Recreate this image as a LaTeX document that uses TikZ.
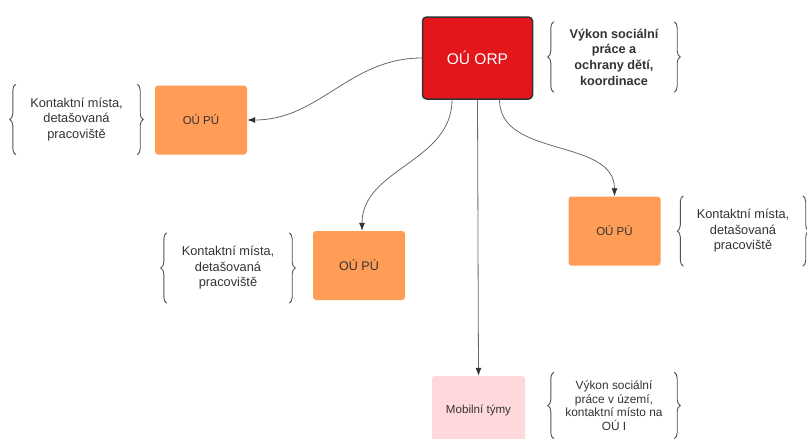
\documentclass[tikz,border=0pt]{standalone}
\usepackage{fontspec}
\setmainfont{Liberation Sans}
\usetikzlibrary{arrows.meta,decorations.pathreplacing}
\definecolor{orpred}{HTML}{E3161B}
\definecolor{puorange}{HTML}{FF9C55}
\definecolor{mobpink}{HTML}{FFD8DB}
\definecolor{linegray}{HTML}{6A6A6A}
\definecolor{textgray}{HTML}{333333}

\begin{document}
\begin{tikzpicture}[x = 1pt, y = -1pt,
  office/.style = {rounded corners = 3pt, minimum width = 92pt,
    minimum height = 69pt, inner sep = 0pt, text = textgray},
  note/.style = {minimum width = 120pt, minimum height = 70pt,
    inner sep = 0pt, align = center, text = textgray,
    font = {\fontsize{12.8}{15.5}\selectfont}},
  curly/.style = {decorate, decoration = {brace, amplitude = 6pt},
    draw = textgray!85, line width = .9pt},
  link/.style = {draw = linegray, line width = .8pt,
    -{Latex[length = 8pt, width = 6pt, color = textgray]}}]
  \useasboundingbox (0, 0) rectangle (807, 439);

  \node[office, fill = orpred, draw = textgray, line width = 1.5pt,
  rounded corners = 4pt, minimum width = 110pt, minimum height = 82pt,
  text = white, font = {\fontsize{15.5}{18}\selectfont}] (orp) at (477.5, 58)
  {OÚ ORP};
  \node[office, fill = puorange, font = {\fontsize{11.5}{14}\selectfont}]
  (pu1) at (201, 120) {OÚ PÚ};
  \node[office, fill = puorange, font = {\fontsize{12.5}{15}\selectfont}]
  (pu2) at (359, 265.5) {OÚ PÚ};
  \node[office, fill = puorange, font = {\fontsize{11.5}{14}\selectfont}]
  (pu3) at (614.5, 231) {OÚ PÚ};
  \node[office, fill = mobpink, minimum width = 93pt,
  font = {\fontsize{11.6}{14}\selectfont}] (mob) at (478.5, 410.5)
  {Mobilní týmy};

  \node[note, font = {\fontsize{12.7}{15.7}\selectfont\bfseries}]
  (orpnote) at (614, 57) {Výkon sociální\\práce a\\ochrany dětí,\\koordinace};
  \node[note, minimum width = 121pt] (pu1note) at (76.5, 119.5)
  {Kontaktní místa,\\detašovaná\\pracoviště};
  \node[note, minimum width = 122pt] (pu2note) at (228, 268)
  {Kontaktní místa,\\detašovaná\\pracoviště};
  \node[note, minimum width = 119pt] (pu3note) at (743, 231)
  {Kontaktní místa,\\detašovaná\\pracoviště};
  \node[note, minimum height = 66pt, font = {\fontsize{11.9}{13.6}\selectfont}]
  (mobnote) at (614, 405.5)
  {Výkon sociální\\práce v území,\\kontaktní místo na\\OÚ I};

  \draw[curly] (orpnote.south west) -- (orpnote.north west);
  \draw[curly] (orpnote.north east) -- (orpnote.south east);
  \draw[curly] (pu1note.south west) -- (pu1note.north west);
  \draw[curly] (pu1note.north east) -- (pu1note.south east);
  \draw[curly] (pu2note.south west) -- (pu2note.north west);
  \draw[curly] (pu2note.north east) -- (pu2note.south east);
  \draw[curly] (pu3note.south west) -- (pu3note.north west);
  \draw[curly] (pu3note.north east) -- (pu3note.south east);
  \draw[curly] (mobnote.south west) -- (mobnote.north west);
  \draw[curly] (mobnote.north east) -- (mobnote.south east);

  \draw[link] (orp.west) to[out = 180, in = 0] (pu1.east);
  \draw[link] ([xshift = -25.5pt]orp.south) to[out = -90, in = 90]
  ([xshift = 3pt]pu2.north);
  \draw[link] (orp.south) -- (mob.north);
  \draw[link] ([xshift = 22pt]orp.south) to[out = -90, in = 90] (pu3.north);
\end{tikzpicture}
\end{document}
